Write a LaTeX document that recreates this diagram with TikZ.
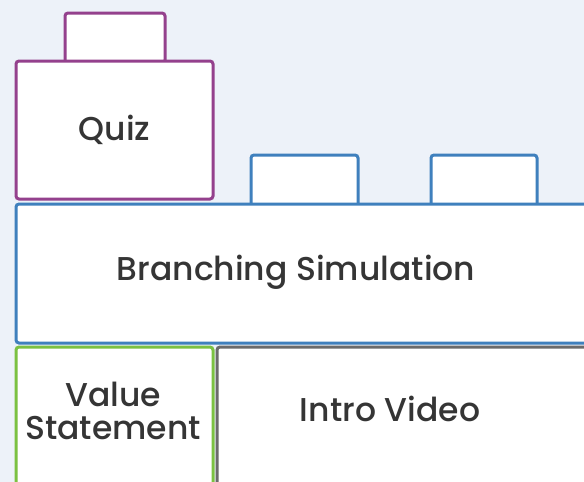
\documentclass[tikz,border=0pt]{standalone}
\usepackage{fontspec}
\setmainfont{Poppins Medium}
\definecolor{bg}{HTML}{EDF2F9}
\definecolor{qpurple}{HTML}{94418D}
\definecolor{sblue}{HTML}{3F80BD}
\definecolor{vgreen}{HTML}{7BC142}
\definecolor{igray}{HTML}{6B6B6B}
\definecolor{txt}{HTML}{353535}
\tikzset{
  blk/.style={draw, fill=white, line width=3pt, rounded corners=3pt, anchor=north west, inner sep=0pt},
  lbl/.style={text=txt, font=\fontsize{33}{33}\selectfont, align=center, inner sep=0pt}
}
\begin{document}
\begin{tikzpicture}[x=1pt,y=-1pt]
\useasboundingbox (0,0) rectangle (584,482);
\fill[bg] (0,0) rectangle (584,482);
\clip (0,0) rectangle (584,482);
% tabs
\node[blk, draw=qpurple, minimum width=100pt, minimum height=50pt] (qtab) at (63.5,11.5) {};
\node[blk, draw=sblue, minimum width=107pt, minimum height=52pt] (stab1) at (249.5,153.5) {};
\node[blk, draw=sblue, minimum width=106pt, minimum height=52pt] (stab2) at (429.5,153.5) {};
% main blocks
\node[blk, draw=qpurple, minimum width=197pt, minimum height=138pt] (quiz) at (14.5,59.5) {};
\node[lbl] (quizt) at (quiz.center) {Quiz};
\node[blk, draw=sblue, minimum width=640pt, minimum height=139pt] (sim) at (14.5,202.5) {};
\node[lbl] (simt) at (296,272) {Branching Simulation};
\node[blk, draw=igray, minimum width=420pt, minimum height=200pt] (intro) at (215.5,345.5) {};
\node[blk, draw=vgreen, minimum width=197pt, minimum height=200pt] (value) at (14.5,345.5) {};
\node[lbl] (valuet) at (113,411) {Value\\Statement};
\node[lbl] (introt) at (390,409) {Intro Video};
\end{tikzpicture}
\end{document}
